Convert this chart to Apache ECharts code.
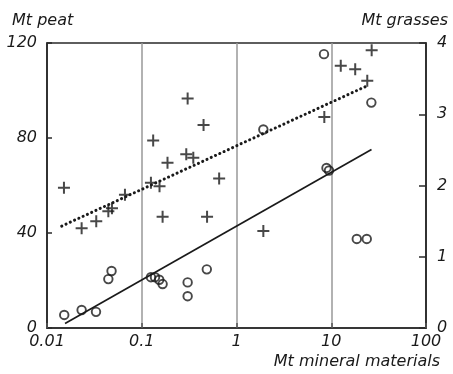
<!DOCTYPE html>
<html>
<head>
<meta charset="utf-8">
<script src="https://cdn.jsdelivr.net/npm/echarts@6/dist/echarts.min.js"></script>
<style>
  html, body { margin: 0; padding: 0; background: #fff; }
  #chart { width: 453px; height: 374px; }
</style>
</head>
<body>
<div id="chart"></div>
<script>
// peat (circles, left axis, Mt)
const peatX = [0.0152, 0.0232, 0.0329, 0.0444, 0.048, 0.125, 0.138, 0.153, 0.166, 0.305, 0.305, 0.486, 1.92, 8.91, 9.47, 8.38, 26.5, 18.6, 23.7];
const peatY = [5.5, 7.6, 6.8, 20.6, 24.0, 21.4, 21.4, 20.3, 18.5, 19.2, 13.4, 24.7, 83.6, 67.4, 66.3, 115.3, 94.9, 37.5, 37.5];

// grasses (crosses, right axis, Mt)
const grassX = [0.0151, 0.0232, 0.0331, 0.0444, 0.0485, 0.0665, 0.125, 0.154, 0.132, 0.187, 0.295, 0.35, 0.305, 0.449, 0.656, 0.166, 0.489, 1.92, 8.45, 12.6, 17.9, 24.0, 26.7];
const grassY = [1.97, 1.40, 1.50, 1.64, 1.68, 1.87, 2.04, 1.99, 2.63, 2.32, 2.44, 2.39, 3.22, 2.85, 2.10, 1.56, 1.56, 1.36, 2.96, 3.68, 3.63, 3.47, 3.90];

// fitted lines (end points)
const peatFitX = [0.0155, 26.6];
const peatFitY = [1.9, 75.2];
const grassFitX = [0.0143, 24.0];
const grassFitY = [1.43, 3.40];

const xTicks = [0.01, 0.1, 1, 10, 100];

const font = 'DejaVu Sans';
const ink = '#1a1a1a';
const txt = { fontFamily: font, fontStyle: 'italic', fontSize: 16, color: ink };
const titleFont = 'italic 16px "DejaVu Sans"';

const zip = (a, b) => a.map((v, i) => [v, b[i]]);

const chart = echarts.init(document.getElementById('chart'), null, { renderer: 'canvas' });

chart.setOption({
  backgroundColor: '#fff',
  animation: false,
  grid: {
    left: 47, right: 27, top: 43, bottom: 46,
    show: true, borderColor: '#2a2a2a', borderWidth: 1.6, backgroundColor: 'transparent'
  },
  xAxis: {
    type: 'log',
    logBase: 10,
    min: 0.01,
    max: 100,
    axisLine: { lineStyle: { color: '#2a2a2a', width: 1.6 } },
    axisTick: { inside: true, length: 5, lineStyle: { color: '#555', width: 1.5 } },
    axisLabel: Object.assign({
      margin: 6,
      formatter: v => xTicks.find(t => Math.abs(Math.log10(t) - Math.log10(v)) < 1e-6) + ''
    }, txt),
    splitLine: { show: true, showMinLine: false, showMaxLine: false, lineStyle: { color: '#999', width: 1.5 } },
    minorTick: { show: false }
  },
  yAxis: [
    {
      type: 'value',
      min: 0, max: 120, interval: 40,
      position: 'left',
      axisLine: { show: true, lineStyle: { color: '#2a2a2a', width: 1.6 } },
      axisTick: { show: true, inside: true, length: 5, lineStyle: { color: '#2a2a2a', width: 1.5 } },
      axisLabel: Object.assign({ margin: 10 }, txt),
      splitLine: { show: false }
    },
    {
      type: 'value',
      min: 0, max: 4, interval: 1,
      position: 'right',
      axisLine: { show: true, lineStyle: { color: '#2a2a2a', width: 1.6 } },
      axisTick: { show: true, inside: true, length: 7, lineStyle: { color: '#2a2a2a', width: 1.5 } },
      axisLabel: Object.assign({ margin: 11 }, txt),
      splitLine: { show: false }
    }
  ],
  graphic: [
    { type: 'text', left: 12, top: 13, style: { text: 'Mt peat', fill: ink, font: titleFont } },
    { type: 'text', right: 5, top: 13, style: { text: 'Mt grasses', fill: ink, font: titleFont } },
    { type: 'text', right: 13, top: 354, style: { text: 'Mt mineral materials', fill: ink, font: titleFont } }
  ],
  series: [
    {
      name: 'peat fit',
      type: 'line',
      yAxisIndex: 0,
      data: zip(peatFitX, peatFitY),
      symbol: 'none',
      lineStyle: { color: ink, width: 1.7 },
      z: 2
    },
    {
      name: 'grasses fit',
      type: 'line',
      yAxisIndex: 1,
      data: zip(grassFitX, grassFitY),
      symbol: 'none',
      lineStyle: { color: ink, width: 3, type: [0.1, 4.6], cap: 'round' },
      z: 2
    },
    {
      name: 'peat',
      type: 'scatter',
      yAxisIndex: 0,
      data: zip(peatX, peatY),
      symbol: 'circle',
      symbolSize: 8.5,
      itemStyle: { color: 'rgba(0,0,0,0)', borderColor: ink, borderWidth: 1.9 },
      z: 3
    },
    {
      name: 'grasses',
      type: 'scatter',
      yAxisIndex: 1,
      data: zip(grassX, grassY),
      symbol: 'path://M5,0h2v12h-2z M0,5h12v2h-12z',
      symbolSize: 12,
      itemStyle: { color: ink },
      z: 3
    }
  ]
});
</script>
</body>
</html>
